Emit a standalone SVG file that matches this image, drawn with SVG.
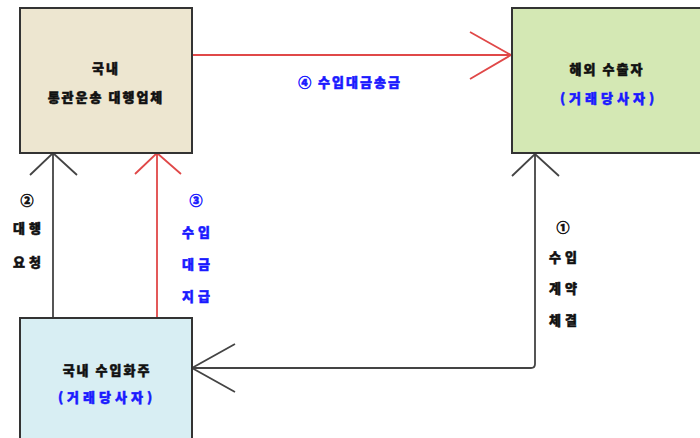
<svg xmlns="http://www.w3.org/2000/svg" width="700" height="438" viewBox="0 0 700 438">
<style>
.box{stroke:#333;stroke-width:2}
.t{font-family:"Noto Sans CJK KR","Noto Sans",sans-serif;font-weight:900;font-size:13px;text-anchor:middle;letter-spacing:2px;stroke-width:0.5px}
.k{fill:#111;stroke:#111}
.b{fill:#1a1aff;stroke:#1a1aff}
.ln{fill:none;stroke:#444;stroke-width:1.8}
.rd{fill:none;stroke:#e04848;stroke-width:1.8}
</style>
<rect width="700" height="438" fill="#fff"/>
<g id="connectors">
<path class="rd" d="M192 55H511M470 32L511 55L470 79"/>
<path class="ln" d="M53 318V153M30 175L53 153L77 175"/>
<path class="rd" d="M157 318V153M135 174L157 153L181 174"/>
<path class="ln" d="M535 154V364Q535 368 531 368H192M512 176L535 154L559 176M235 344L192 368L235 392"/>
</g>
<g id="node-agent">
<rect class="box" x="20" y="8" width="172" height="145" fill="#ede6d0"/>
<text class="t k" x="106" y="73">국내</text>
<text class="t k" x="106" y="102">통관운송 대행업체</text>
</g>
<g id="node-exporter">
<rect class="box" x="512" y="8" width="196" height="145" fill="#d4e8b4"/>
<text class="t k" x="607" y="74">해외 수출자</text>
<text class="t b" x="609" y="103" style="letter-spacing:4px">(거래당사자)</text>
</g>
<g id="node-importer">
<rect class="box" x="20" y="318" width="172" height="130" fill="#d8eef3"/>
<text class="t k" x="107" y="375">국내 수입화주</text>
<text class="t b" x="107" y="402" style="letter-spacing:4px">(거래당사자)</text>
</g>
<g id="labels">
<text class="t b" x="350" y="87">④ 수입대금송금</text>
<text class="t k" x="28" y="205">②</text>
<text class="t k" x="29" y="233" style="letter-spacing:4px">대행</text>
<text class="t k" x="29" y="267" style="letter-spacing:4px">요청</text>
<text class="t b" x="197" y="205">③</text>
<text class="t b" x="198" y="237" style="letter-spacing:4px">수입</text>
<text class="t b" x="198" y="269" style="letter-spacing:4px">대금</text>
<text class="t b" x="198" y="301" style="letter-spacing:4px">지급</text>
<text class="t k" x="564" y="232">①</text>
<text class="t k" x="565" y="262" style="letter-spacing:4px">수입</text>
<text class="t k" x="565" y="293" style="letter-spacing:4px">계약</text>
<text class="t k" x="565" y="325" style="letter-spacing:4px">체결</text>
</g>
</svg>
